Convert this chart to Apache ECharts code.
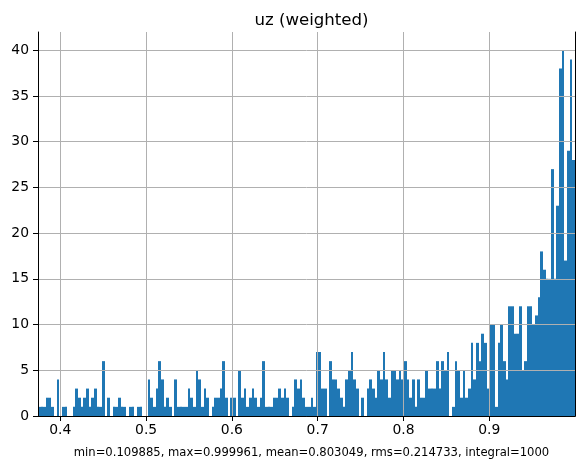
<!DOCTYPE html>
<html>
<head>
<meta charset="utf-8">
<title>uz (weighted)</title>
<script src="https://cdn.jsdelivr.net/npm/echarts@6.0.0/dist/echarts.min.js"></script>
<style>
  html, body { margin: 0; padding: 0; background: #fff; }
  #chart { width: 584px; height: 468px; }
</style>
</head>
<body>
<div id="chart"></div>
<script>
// histogram range shown on the x axis, bins are equal width
var binLo = 0.374;
var binHi = 0.99996;
// weighted count per bin, left to right
var counts = [
  1,1,1,2,2,1,0,4,0,1, 1,0,0,1,3,2,1,2,3,1, 2,3,1,1,6,0,2,0,1,1, 2,1,1,0,1,1,0,
  1,1,0,0,4,2,1,3,6,4, 1,2,1,0,4,1,1,1,1,3, 2,1,5,4,
  1,3,2,0,1,2,2,3,6,2,0,2,2,0,5,
  2,3,1,2,3,2,1,2,6,1, 1,1,2,2,3,2,3,2,0,1, 4,3,4,2,1,1,2,1,7,7, 3,3,
  0,6,4,4,3,2,1,4,5,7, 4,3,0,2,0,3,4,3,2,5, 4,7,4,2,5,5,4,5,4,6,
  4,2,4,1,4,2,2,5,
  3,3,3,6,3,6,5,7,0,1, 6,5,2,5,2,3,8,4,8,6, 9,8,3,10,10,1,8,10,6,4,
  12,12,9,9,12,5,6,12,12,10, 11,13,18,16,15,15,27,15,23,38, 40,17,29,39,28
];
var xTicks = [0.4, 0.5, 0.6, 0.7, 0.8, 0.9];
var yTicks = [0, 5, 10, 15, 20, 25, 30, 35, 40];
var yMax = 42;
var titleText = 'uz (weighted)';
var statsText = 'min=0.109885, max=0.999961, mean=0.803049, rms=0.214733, integral=1000';

var font = 'DejaVu Sans';
var binW = (binHi - binLo) / counts.length;
var bars = [];
for (var i = 0; i < counts.length; i++) {
  if (counts[i] > 0) {
    bars.push([binLo + i * binW, binLo + (i + 1) * binW, counts[i]]);
  }
}

var myChart = echarts.init(document.getElementById('chart'));
var option = {
  animation: false,
  backgroundColor: '#fff',
  title: [{
    text: titleText,
    left: 306.5,
    top: 7,
    textAlign: 'center',
    textStyle: { fontFamily: font, fontSize: 16.6, fontWeight: 'normal', color: '#000' }
  }, {
    text: statsText,
    left: 306.5,
    top: 442,
    textAlign: 'center',
    textStyle: { fontFamily: font, fontSize: 11.6, fontWeight: 'normal', color: '#000' }
  }],
  grid: { left: 38, right: 9, top: 32, bottom: 52 },
  xAxis: [{
    type: 'value',
    min: binLo,
    max: binHi,
    splitNumber: 6,
    z: 3,
    axisLine: { show: true, lineStyle: { color: '#000', width: 1 } },
    axisTick: { show: true, length: 5, customValues: xTicks, lineStyle: { color: '#000' } },
    axisLabel: {
      customValues: xTicks,
      margin: 7,
      fontFamily: font, fontSize: 13.9, color: '#000',
      formatter: function (v) { return v.toFixed(1); }
    },
    splitLine: { show: true, lineStyle: { color: '#b0b0b0', width: 1 } }
  }, {
    type: 'value',
    position: 'top',
    min: binLo,
    max: binHi,
    z: 3,
    axisLine: { show: true, lineStyle: { color: '#000', width: 1 } },
    axisTick: { show: false },
    axisLabel: { show: false },
    splitLine: { show: false }
  }],
  yAxis: [{
    type: 'value',
    min: 0,
    max: yMax,
    interval: 5,
    z: 3,
    axisLine: { show: true, lineStyle: { color: '#000', width: 1 } },
    axisTick: { show: true, length: 5, customValues: yTicks, lineStyle: { color: '#000' } },
    axisLabel: { customValues: yTicks, margin: 9, fontFamily: font, fontSize: 13.9, color: '#000' },
    splitLine: { show: true, lineStyle: { color: '#b0b0b0', width: 1 } }
  }, {
    type: 'value',
    position: 'right',
    min: 0,
    max: yMax,
    z: 3,
    axisLine: { show: true, lineStyle: { color: '#000', width: 1 } },
    axisTick: { show: false },
    axisLabel: { show: false },
    splitLine: { show: false }
  }],
  series: [{
    type: 'custom',
    xAxisIndex: 0,
    yAxisIndex: 0,
    data: bars,
    encode: { x: [0, 1], y: 2 },
    renderItem: function (params, api) {
      var p0 = api.coord([api.value(0), 0]);
      var p1 = api.coord([api.value(1), api.value(2)]);
      // snap to whole pixels so neighbouring bars meet without seams
      var x0 = Math.round(p0[0]);
      var x1 = Math.round(p1[0]);
      return {
        type: 'rect',
        shape: { x: x0, y: p1[1], width: x1 - x0, height: p0[1] - p1[1] },
        style: { fill: '#1f77b4' }
      };
    }
  }]
};
myChart.setOption(option);
window.addEventListener('resize', function () {
  myChart.resize();
});
</script>
</body>
</html>
